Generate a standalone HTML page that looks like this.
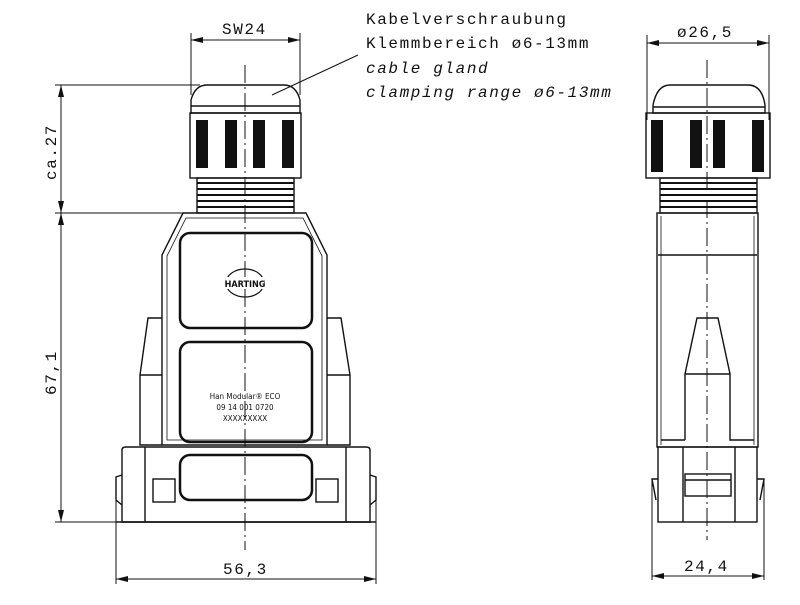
<!DOCTYPE html>
<html><head><meta charset="utf-8"><style>
html,body{margin:0;padding:0;background:#fff;width:800px;height:605px;overflow:hidden}
text{font-family:"DejaVu Sans Condensed","Liberation Sans Narrow","Liberation Sans",sans-serif;fill:#111}
text.t{font-family:"Liberation Mono","DejaVu Sans Mono",monospace;letter-spacing:1.6px}
</style></head><body>
<svg width="800" height="605" viewBox="0 0 800 605" xmlns="http://www.w3.org/2000/svg">
<defs>
<marker id="a" markerWidth="12" markerHeight="6" refX="12" refY="3" orient="auto-start-reverse" markerUnits="userSpaceOnUse"><path d="M0,0 L12,3 L0,6 z" fill="#111"/></marker>
</defs>
<g stroke="#111" fill="none" stroke-width="1">
<line x1="191" y1="33" x2="191" y2="95"/><line x1="300" y1="33" x2="300" y2="95"/>
<line x1="191" y1="40" x2="300" y2="40" marker-start="url(#a)" marker-end="url(#a)"/>
<line x1="55" y1="85" x2="200" y2="85"/><line x1="55" y1="213" x2="190" y2="213"/><line x1="55" y1="522" x2="122" y2="522"/>
<line x1="61" y1="85" x2="61" y2="213" marker-start="url(#a)" marker-end="url(#a)"/>
<line x1="61" y1="213" x2="61" y2="522" marker-start="url(#a)" marker-end="url(#a)"/>
<line x1="116" y1="478" x2="116" y2="584"/><line x1="376" y1="478" x2="376" y2="584"/>
<line x1="116" y1="579" x2="376" y2="579" marker-start="url(#a)" marker-end="url(#a)"/>
<line x1="272" y1="95" x2="358" y2="55"/>
<line x1="647" y1="35" x2="647" y2="120"/><line x1="769" y1="35" x2="769" y2="120"/>
<line x1="647" y1="43" x2="769" y2="43" marker-start="url(#a)" marker-end="url(#a)"/>
<line x1="652" y1="480" x2="652" y2="580"/><line x1="764" y1="480" x2="764" y2="580"/>
<line x1="652" y1="576" x2="764" y2="576" marker-start="url(#a)" marker-end="url(#a)"/>
<line x1="245" y1="65" x2="245" y2="550" stroke-dasharray="18,4,2,4"/>
<line x1="707" y1="60" x2="707" y2="540" stroke-dasharray="18,4,2,4"/>
</g>
<g stroke="#111" fill="none" stroke-width="1.4">
<path d="M191,113 L191,100 Q195,85 207,85 L284,85 Q296,85 300,100 L300,113 Z"/>
<line x1="191" y1="106" x2="300" y2="106"/>
<rect x="190" y="113" width="111" height="65"/>
<rect x="197" y="178" width="97" height="35"/>
<path d="M197,183 H294 M197,189 H294 M197,195 H294 M197,201 H294 M197,207 H294" stroke-width="2"/>
<path d="M183,213 L306,213 L327,255 L327,445 L162,445 L162,255 Z"/>
<path d="M186,218 L303,218 L322,256 L322,440 L167,440 L167,256 Z" stroke-width="0.8"/>
<rect x="180" y="233" width="132" height="95" rx="10" stroke-width="2.5"/>
<rect x="180" y="342" width="132" height="100" rx="10" stroke-width="2.5"/>
<rect x="180" y="455" width="132" height="45" rx="10" stroke-width="2.5"/>
<path d="M162,318 L148,318 L140,375 L140,445 L162,445"/>
<path d="M327,318 L341,318 L350,375 L350,445 L327,445"/>
<line x1="140" y1="375" x2="162" y2="375"/><line x1="327" y1="375" x2="350" y2="375"/>
<path d="M122,522 L122,450 Q122,447 126,447 L366,447 Q370,447 370,450 L370,522 Z"/>
<line x1="116" y1="522" x2="376" y2="522"/>
<path d="M122,475 L116,477 L116,500 L122,505 M370,475 L376,477 L376,500 L370,505"/>
<line x1="145" y1="447" x2="145" y2="522"/><line x1="346" y1="447" x2="346" y2="522"/>
<rect x="153" y="479" width="22" height="23"/><rect x="316" y="479" width="22" height="23"/>
<ellipse cx="245" cy="283" rx="19" ry="14" stroke-width="1.2"/>
</g>
<g fill="#111">
<rect x="196" y="120" width="12" height="48"/><rect x="225" y="120" width="12" height="48"/><rect x="253" y="120" width="12" height="48"/><rect x="282" y="120" width="12" height="48"/>
<rect x="651" y="120" width="12" height="52"/><rect x="690" y="120" width="12" height="48"/><rect x="713" y="120" width="12" height="48"/><rect x="752" y="120" width="12" height="52"/>
</g>
<rect x="226" y="277" width="38" height="12" fill="#fff"/>
<text x="245" y="287" font-size="9" text-anchor="middle" font-weight="bold">HARTING</text>
<text x="245" y="399" font-size="8" text-anchor="middle">Han Modular® ECO</text>
<text x="245" y="410" font-size="8" text-anchor="middle">09 14 001 0720</text>
<text x="245" y="421" font-size="8" text-anchor="middle">XXXXXXXXX</text>
<g stroke="#111" fill="none" stroke-width="1.4">
<path d="M653,113 L653,105 Q657,85 670,85 L748,85 Q762,85 765,105 L765,113 Z"/>
<line x1="653" y1="107" x2="765" y2="107"/>
<rect x="646" y="113" width="124" height="65"/>
<rect x="660" y="178" width="97" height="35"/>
<path d="M660,183 H757 M660,189 H757 M660,195 H757 M660,201 H757 M660,207 H757" stroke-width="2"/>
<rect x="657" y="213" width="101" height="234"/>
<line x1="661" y1="216" x2="661" y2="445" stroke-width="0.8"/><line x1="754" y1="216" x2="754" y2="445" stroke-width="0.8"/>
<line x1="658" y1="255" x2="757" y2="255"/>
<path d="M685,440 L685,374 L697,318 L718,318 L730,374 L730,440 L754,440 M685,440 L661,440"/>
<line x1="685" y1="374" x2="730" y2="374"/>
<rect x="658" y="447" width="99" height="75"/>
<line x1="683" y1="447" x2="683" y2="522"/><line x1="735" y1="447" x2="735" y2="522"/>
<path d="M658,479 L652,479 L656,500 M757,479 L764,479 L760,500"/>
<rect x="685" y="474" width="46" height="22"/><line x1="685" y1="480" x2="731" y2="480"/>
</g>
<text class="t" x="222" y="34" font-size="16">SW24</text>
<text class="t" x="677" y="37" font-size="16">ø26,5</text>
<text class="t" x="223" y="574" font-size="16">56,3</text>
<text class="t" x="684" y="571" font-size="16">24,4</text>
<text class="t" transform="translate(56,180) rotate(-90)" font-size="16">ca.27</text>
<text class="t" transform="translate(56,395) rotate(-90)" font-size="16">67,1</text>
<text class="t" x="366" y="24" font-size="16">Kabelverschraubung</text>
<text class="t" x="366" y="48" font-size="16">Klemmbereich ø6-13mm</text>
<text class="t" x="366" y="73" font-size="16" font-style="italic">cable gland</text>
<text class="t" x="366" y="97" font-size="16" font-style="italic">clamping range ø6-13mm</text>
</svg>
</body></html>
